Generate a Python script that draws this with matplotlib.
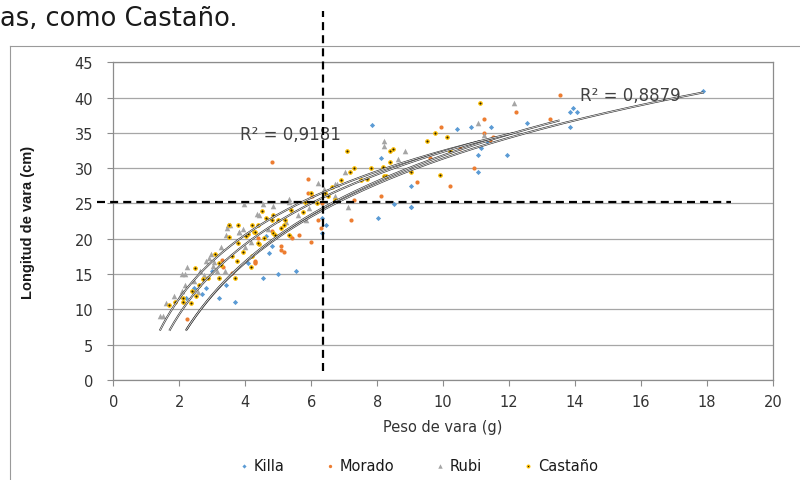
import matplotlib
matplotlib.use('Agg')
import matplotlib.pyplot as plt
from matplotlib.lines import Line2D
import numpy as np

# --- scatter data: stem weight (g) vs stem length (cm) ---
killa_x = [17.89, 13.94, 13.84, 14.07, 13.84, 12.55, 11.44, 10.85, 10.42, 11.33, 11.15, 11.05,
           11.95, 11.05, 9.03, 9.03, 7.83, 8.13, 8.51, 8.03, 6.32, 6.44, 6.32, 4.80, 4.63, 4.72,
           4.09, 4.53, 5.00, 5.53, 3.20, 3.41, 2.80, 3.21, 3.70, 2.20, 2.98, 2.45, 2.70, 9.04]
killa_y = [40.9, 38.5, 37.9, 37.9, 35.9, 36.4, 35.9, 35.9, 35.5, 33.9, 32.9, 31.9,
           31.9, 29.4, 27.5, 24.5, 36.1, 31.4, 24.9, 23.0, 23.0, 22.0, 20.8, 19.0, 20.4, 18.0,
           16.6, 14.5, 15.0, 15.4, 14.4, 13.5, 13.0, 11.6, 11.0, 11.6, 15.5, 13.1, 12.2, 24.5]

morado_x = [13.53, 12.22, 13.25, 11.23, 9.94, 11.23, 11.52, 10.51, 9.60, 10.93, 9.21, 10.22,
            11.42, 4.80, 5.91, 8.11, 5.91, 6.03, 6.32, 7.30, 7.20, 5.99, 5.64, 5.35, 5.10,
            6.21, 6.29, 5.41, 5.10, 5.18, 4.80, 4.38, 4.31, 4.31, 3.59, 3.30, 3.33, 2.22, 4.29]
morado_y = [40.4, 38.0, 37.0, 37.0, 35.9, 35.0, 34.4, 32.9, 31.4, 30.0, 28.0, 27.5,
            34.0, 30.9, 28.5, 26.1, 26.5, 26.1, 25.1, 25.5, 22.6, 19.6, 20.5, 20.4, 19.0,
            22.6, 21.6, 20.1, 18.4, 18.1, 21.1, 20.1, 16.9, 16.6, 15.2, 17.0, 16.0, 8.6, 16.7]

rubi_x = [12.16, 11.05, 11.23, 8.84, 8.21, 8.21, 8.62, 7.02, 6.72, 6.21, 6.39, 7.12, 6.72,
          5.33, 5.33, 4.83, 4.53, 3.97, 4.35, 4.42, 3.47, 3.82, 1.41, 1.52, 1.60, 1.84, 2.02,
          2.07, 2.17, 2.07, 2.17, 2.25, 2.63, 2.80, 2.90, 3.03, 2.58, 3.13, 3.06, 3.38, 3.28,
          3.41, 3.45, 3.54, 3.81, 3.92, 4.19, 3.99, 5.25, 5.61, 4.70, 2.45, 2.75, 2.95, 5.94,
          5.83, 6.77]
rubi_y = [39.2, 36.4, 34.7, 32.4, 33.9, 33.2, 31.3, 29.4, 27.8, 27.9, 27.1, 24.5, 26.1,
          25.6, 25.2, 24.7, 24.9, 24.9, 23.5, 23.4, 21.9, 21.0, 9.1, 9.1, 10.9, 11.9, 11.9,
          12.6, 13.4, 15.0, 15.0, 16.0, 15.5, 16.9, 17.3, 16.2, 12.4, 15.5, 16.7, 15.5, 18.9,
          20.6, 21.5, 21.9, 20.9, 21.4, 19.6, 18.9, 22.4, 23.4, 21.4, 14.0, 14.9, 17.9, 24.3,
          22.6, 27.8]

castano_x = [11.13, 9.74, 9.52, 10.12, 10.22, 9.03, 9.92, 7.09, 8.38, 8.48, 7.30, 7.17, 6.90,
             6.62, 7.81, 8.18, 8.38, 8.21, 8.27, 7.70, 7.51, 5.98, 6.42, 6.52, 6.72, 5.81, 6.18,
             5.74, 5.38, 4.85, 4.62, 4.52, 5.20, 5.00, 5.10, 4.83, 4.38, 4.27, 3.79, 4.07, 4.58,
             4.42, 3.51, 1.70, 1.87, 2.10, 2.10, 2.37, 2.50, 2.39, 2.60, 2.48, 2.73, 2.88, 3.08,
             3.20, 3.28, 3.20, 3.59, 3.69, 3.76, 3.94, 3.79, 4.01, 4.21, 4.39, 4.22, 4.19, 4.90,
             5.18, 5.32, 4.80, 3.51, 4.29]
castano_y = [39.3, 35.0, 33.9, 34.4, 32.4, 29.5, 29.0, 32.5, 32.5, 32.7, 30.0, 29.4, 28.3,
             27.3, 30.0, 30.2, 30.9, 28.9, 28.9, 28.5, 28.3, 26.5, 26.5, 26.1, 25.5, 25.2, 25.1,
             23.8, 24.1, 23.4, 23.0, 24.0, 22.7, 22.6, 21.5, 20.8, 22.0, 21.0, 22.0, 20.7, 20.1,
             19.3, 20.2, 10.6, 11.0, 11.6, 11.0, 10.9, 11.9, 12.6, 13.5, 15.9, 14.3, 14.4, 17.8,
             16.6, 16.3, 14.4, 17.6, 14.5, 16.8, 18.1, 19.4, 20.4, 22.0, 19.4, 17.5, 16.0, 20.5,
             22.0, 20.5, 22.6, 22.0, 20.9]

# logarithmic trendlines y = a*ln(x) + b
trend_a = {'Killa': 16.1, 'Morado': 16.4, 'Rubi': 13.0, 'Castaño': 14.3}
trend_b = {'Killa': -5.7, 'Morado': -5.95, 'Rubi': 2.53, 'Castaño': -0.6}
r2_labels = ['R² = 0,9181', 'R² = 0,8879']

# reference cut-off lines
cut_weight = 6.35
cut_length = 25.17

series = [
    ('Killa', killa_x, killa_y, dict(marker='D', s=7, c='#5B9BD5', linewidths=0)),
    ('Morado', morado_x, morado_y, dict(marker='o', s=9, c='#ED7D31', linewidths=0)),
    ('Rubi', rubi_x, rubi_y, dict(marker='^', s=16, c='#A5A5A5', linewidths=0)),
    ('Castaño', castano_x, castano_y, dict(marker='o', s=6, c='#2b2000', edgecolors='#FFC000', linewidths=0.9)),
]

fig = plt.figure(figsize=(8, 4.81), dpi=100)
ax = fig.add_axes([0.1416, 0.2079, 0.8246, 0.6605])
ax.set_xlim(0, 20); ax.set_ylim(0, 45)
ax.set_xticks(range(0, 21, 2)); ax.set_yticks(range(0, 46, 5))
ax.yaxis.grid(True, color='#a6a6a6', lw=0.9)
ax.set_axisbelow(True)
for s in ax.spines.values():
    s.set_color('#8c8c8c'); s.set_linewidth(0.9)
ax.tick_params(axis='x', length=4, pad=6, color='#8c8c8c', labelsize=10.5, labelcolor='#333333')
ax.tick_params(axis='y', length=4.5, pad=10, color='#8c8c8c', labelsize=10.5, labelcolor='#333333')

handles = []
for name, xs, ys, kw in series:
    h = ax.scatter(xs, ys, zorder=3, label=name, **kw)
    handles.append(h)

# trendlines over each series' x range, drawn as a double line
for name, xs, ys, kw in series:
    xx = np.linspace(min(xs), max(xs), 200)
    yy = trend_a[name] * np.log(xx) + trend_b[name]
    ax.plot(xx, yy, color='#303030', lw=1.4, zorder=4, solid_capstyle='butt')
    ax.plot(xx, yy, color='white', lw=0.5, zorder=4, solid_capstyle='butt')

ax.text(3.84, 34.85, r2_labels[0], fontsize=12, color='#404040', va='center', ha='left', zorder=5)
ax.text(14.14, 40.4, r2_labels[1], fontsize=12, color='#404040', va='center', ha='left', zorder=5)

ax.set_xlabel('Peso de vara (g)', fontsize=10.5, color='#333333', labelpad=7)
fig.text(28 / 800, 1 - 222 / 481, 'Longitud de vara (cm)', rotation=90, ha='center', va='center',
         fontsize=10.5, color='#1a1a1a', weight='bold',
         family=['Liberation Sans Narrow', 'Liberation Sans'])

fig.legend(handles=handles, loc='center', bbox_to_anchor=(417 / 800, 1 - 466.7 / 481), ncol=4,
           frameon=False, fontsize=10.5, handletextpad=0.2, columnspacing=2.6, handlelength=1.0,
           markerscale=0.8, labelcolor='#1a1a1a')

# dashed cut-off lines drawn across the chart
ax.plot([cut_weight, cut_weight], [1.3, 52.3], color='black', lw=1.6, dashes=(3.6, 2.3),
        clip_on=False, zorder=6)
ax.plot([-0.5, 18.72], [cut_length, cut_length], color='black', lw=1.6, dashes=(3.6, 2.3),
        clip_on=False, zorder=6)

# chart frame and surrounding document text
fig.add_artist(Line2D([9.5 / 800, 9.5 / 800], [0, 1 - 47 / 481], color='#9a9a9a', lw=0.8))
fig.add_artist(Line2D([9.5 / 800, 1], [1 - 47 / 481, 1 - 47 / 481], color='#9a9a9a', lw=0.8))
fig.text(0.0, 1 - 26 / 481, 'as, como Castaño.', fontsize=18.5, color='#1a1a1a', va='baseline')

fig.savefig('out.png', dpi=100)
